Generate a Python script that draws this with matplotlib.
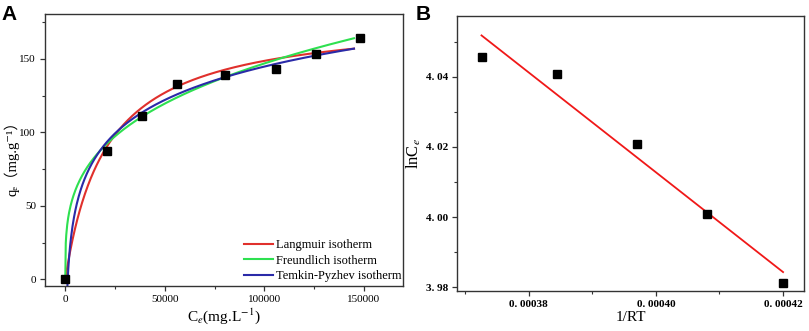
import numpy as np
import matplotlib
matplotlib.use("Agg")
import matplotlib.pyplot as plt
from matplotlib.ticker import MultipleLocator, FixedLocator

plt.rcParams['font.family'] = ['Liberation Serif', 'DejaVu Serif']
plt.rcParams['mathtext.fontset'] = 'stix'

# Panel A - adsorption isotherm data
ce = [0, 21000, 38500, 56000, 80000, 106000, 126000, 148000]
qe = [0, 87.5, 111, 133, 139, 143, 153.4, 164]

# fitted isotherm parameters (estimated from the curves)
lang_qm, lang_b = 179.3, 20580.0        # q = qm*C/(b+C)
freu_kf, freu_n = 4.81, 0.297           # q = Kf*C^n
temk_B, temk_A = 32.8, 8.27e-4          # q = B*ln(A*C)

# Panel B - lnCe vs 1/RT
inv_rt = [0.0003726, 0.0003845, 0.0003971, 0.0004080, 0.0004200]
ln_ce = [4.0455, 4.0408, 4.0209, 4.0009, 3.9811]

fig = plt.figure(figsize=(8.09, 3.31), dpi=100)

# ---- Panel A
ax1 = fig.add_axes([0.0556, 0.1360, 0.4425, 0.8217])
c = np.linspace(0, 145000, 600)
ax1.plot(c, lang_qm * c / (lang_b + c), color='#e0302c', lw=1.5, label='Langmuir isotherm')
ax1.plot(c, freu_kf * c ** freu_n, color='#2ee050', lw=1.5, label='Freundlich isotherm')
ct = np.linspace(1000, 145000, 600)
ax1.plot(ct, temk_B * np.log(temk_A * ct), color='#2a2aa8', lw=1.5, label='Temkin-Pyzhev isotherm')
ax1.plot(ce, qe, 's', color='black', ms=5.5, zorder=5)

ax1.set_xlim(-10200, 169600)
ax1.set_ylim(-4.6, 180.6)
ax1.xaxis.set_major_locator(FixedLocator([0, 50000, 100000, 150000]))
ax1.xaxis.set_minor_locator(FixedLocator([25000, 75000, 125000]))
ax1.yaxis.set_major_locator(MultipleLocator(50))
ax1.yaxis.set_minor_locator(FixedLocator([25, 75, 125, 175]))
ax1.set_xlabel('C$_e$(mg.L$^{-1}$)', fontsize=11, labelpad=2)
ax1.set_ylabel('qₑ（mg.g⁻¹）', fontsize=10.5,
               family=['Liberation Serif', 'DejaVu Serif', 'Noto Sans CJK SC'])
ax1.yaxis.set_label_coords(-0.072, 0.48)
ax1.legend(loc='upper left', bbox_to_anchor=(0.556, 0.173), frameon=False,
           fontsize=9, handlelength=2.3, handletextpad=0.25, labelspacing=0.3,
           borderpad=0, borderaxespad=0)

# ---- Panel B
ax2 = fig.add_axes([0.5653, 0.1218, 0.4286, 0.8308])
slope, icpt = np.polyfit(inv_rt, ln_ce, 1)
xl = np.array([inv_rt[0], inv_rt[-1]])
ax2.plot(xl, slope * xl + icpt, color='#f01818', lw=1.3)
ax2.plot(inv_rt, ln_ce, 's', color='black', ms=5.5, zorder=5)
ax2.set_xlim(0.0003688, 0.0004233)
ax2.set_ylim(3.979, 4.0574)
ax2.xaxis.set_major_locator(FixedLocator([0.00038, 0.00040, 0.00042]))
ax2.xaxis.set_minor_locator(FixedLocator([0.00037, 0.00039, 0.00041]))
ax2.set_xticklabels(['0. 00038', '0. 00040', '0. 00042'])
ax2.yaxis.set_major_locator(FixedLocator([3.98, 4.00, 4.02, 4.04]))
ax2.yaxis.set_minor_locator(FixedLocator([3.99, 4.01, 4.03, 4.05]))
ax2.set_yticklabels(['3. 98', '4. 00', '4. 02', '4. 04'])
ax2.set_xlabel('1/RT', fontsize=11, labelpad=2)
ax2.set_ylabel('lnC$_e$', fontsize=12, labelpad=2)

for ax in (ax1, ax2):
    for s in ax.spines.values():
        s.set_color('#333333')
        s.set_linewidth(1.0)
    ax.tick_params(which='major', direction='out', length=3.5, width=0.9, pad=3,
                   labelsize=8, color='#333333')
    ax.tick_params(which='minor', direction='out', length=2.2, width=0.8, color='#333333')
for lab in ax2.get_xticklabels() + ax2.get_yticklabels():
    lab.set_fontweight('bold')

fig.text(0.002, 0.985, 'A', fontsize=15, fontweight='bold', family='Liberation Sans', va='top')
fig.text(0.514, 0.985, 'B', fontsize=15, fontweight='bold', family='Liberation Sans', va='top')

fig.savefig('out.png', dpi=100)
